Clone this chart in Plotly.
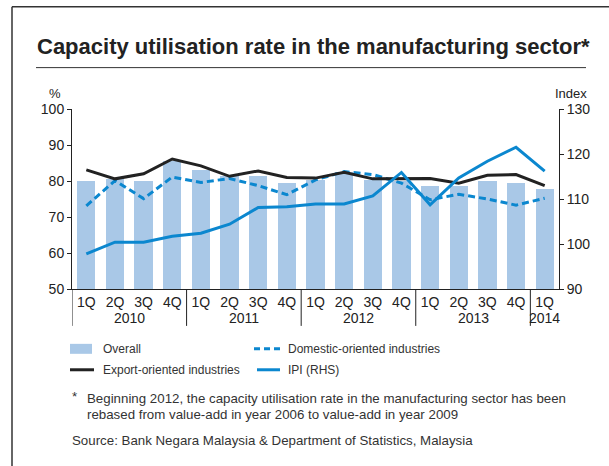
import plotly.graph_objects as go

# Quarterly capacity utilisation (%) and industrial production index
quarters = ["1Q", "2Q", "3Q", "4Q"] * 4 + ["1Q"]
years = ["2010", "2011", "2012", "2013", "2014"]
quarters_per_year = [4, 4, 4, 4, 1]

overall = [80.0, 80.5, 80.0, 85.5, 83.0, 81.3, 81.4, 79.5,
           80.4, 82.5, 80.4, 80.0, 78.7, 78.7, 80.1, 79.5, 77.9]
export_oriented = [83.1, 80.6, 82.0, 86.1, 84.2, 81.3, 82.8, 81.0,
                   80.8, 82.4, 80.6, 80.6, 80.7, 79.4, 81.6, 81.8, 78.7]
domestic_oriented = [73.1, 80.1, 75.1, 81.1, 79.6, 80.7, 78.7, 76.2,
                     80.3, 82.6, 81.8, 79.4, 74.8, 76.3, 75.0, 73.3, 75.2]
ipi = [97.8, 100.4, 100.4, 101.7, 102.4, 104.4, 108.1, 108.3,
       108.9, 108.9, 110.7, 115.9, 108.7, 114.7, 118.4, 121.5, 116.2]

W, H = 609, 466
PL, PR, PT, PB = 72, 559, 108.5, 289  # plot area in pixels

BAR = "#a9c8e7"
BLUE = "#0b87cf"
BLACK = "#222222"
TEXT = "#222222"
FONT = "Liberation Sans, Arial, sans-serif"


def px(x):
    return (x - PL) / (PR - PL)


def py(y):
    return (PB - y) / (PB - PT)


xs = list(range(len(quarters)))

fig = go.Figure()
fig.add_trace(go.Bar(x=xs, y=overall, marker=dict(color=BAR, line=dict(width=0)),
                     width=0.64, name="Overall"))
fig.add_trace(go.Scatter(x=xs, y=domestic_oriented, mode="lines",
                         line=dict(color=BLUE, width=3, dash="7px,4px"),
                         name="Domestic-oriented industries"))
fig.add_trace(go.Scatter(x=xs, y=export_oriented, mode="lines",
                         line=dict(color=BLACK, width=3),
                         name="Export-oriented industries"))
fig.add_trace(go.Scatter(x=xs, y=ipi, mode="lines", yaxis="y2",
                         line=dict(color=BLUE, width=3), name="IPI (RHS)"))

shapes = []
annotations = []

# frame and title rule
shapes.append(dict(type="line", xref="paper", yref="paper", x0=px(12), x1=px(W + 5),
                   y0=py(6), y1=py(6), line=dict(color="#333333", width=1.5)))
shapes.append(dict(type="line", xref="paper", yref="paper", x0=px(12), x1=px(12),
                   y0=py(6), y1=py(H + 5), line=dict(color="#333333", width=1.5)))
shapes.append(dict(type="line", xref="paper", yref="paper", x0=px(36), x1=px(586),
                   y0=py(67), y1=py(67), line=dict(color="#333333", width=1)))

annotations.append(dict(text="Capacity utilisation rate in the manufacturing sector*",
                        xref="paper", yref="paper", x=px(35), y=py(46),
                        xanchor="left", yanchor="middle", showarrow=False,
                        font=dict(family=FONT, size=22, color=TEXT, weight="bold")))
annotations.append(dict(text="%", xref="paper", yref="paper", x=px(55), y=py(93),
                        xanchor="center", yanchor="middle", showarrow=False,
                        font=dict(family=FONT, size=13, color=TEXT)))
annotations.append(dict(text="Index", xref="paper", yref="paper", x=px(571), y=py(93),
                        xanchor="center", yanchor="middle", showarrow=False,
                        font=dict(family=FONT, size=13, color=TEXT)))

# year groups below the quarter labels
start = 0
for yr, n in zip(years, quarters_per_year):
    shapes.append(dict(type="line", xref="x", yref="paper", x0=start - 0.5, x1=start - 0.5,
                       y0=0, y1=py(326), line=dict(color=BLACK, width=1)))
    annotations.append(dict(text=yr, xref="x", yref="paper", x=start + (n - 1) / 2,
                            y=py(318), xanchor="center", yanchor="middle", showarrow=False,
                            font=dict(family=FONT, size=14, color=TEXT)))
    start += n

# legend
LEG = dict(family=FONT, size=12, color="#333333")
shapes.append(dict(type="rect", xref="paper", yref="paper", x0=px(70), x1=px(92),
                   y0=py(344), y1=py(354), fillcolor=BAR, line=dict(width=0)))
shapes.append(dict(type="line", xref="paper", yref="paper", x0=px(254), x1=px(280),
                   y0=py(349), y1=py(349), line=dict(color=BLUE, width=3, dash="6px,4px")))
shapes.append(dict(type="line", xref="paper", yref="paper", x0=px(70), x1=px(94),
                   y0=py(370), y1=py(370), line=dict(color=BLACK, width=3)))
shapes.append(dict(type="line", xref="paper", yref="paper", x0=px(257), x1=px(280),
                   y0=py(370), y1=py(370), line=dict(color=BLUE, width=3)))
for txt, x, y in [("Overall", 101, 349), ("Domestic-oriented industries", 286, 349),
                  ("Export-oriented industries", 101, 370), ("IPI (RHS)", 286, 370)]:
    annotations.append(dict(text=txt, xref="paper", yref="paper", x=px(x), y=py(y),
                            xanchor="left", yanchor="middle", showarrow=False, font=LEG))

# notes
NOTE = dict(family=FONT, size=13.3, color="#333333")
for txt, x, y in [("*", 70, 397),
                  ("Beginning 2012, the capacity utilisation rate in the manufacturing sector has been", 85, 399),
                  ("rebased from value-add in year 2006 to value-add in year 2009", 85, 415),
                  ("Source: Bank Negara Malaysia & Department of Statistics, Malaysia", 70, 441)]:
    annotations.append(dict(text=txt, xref="paper", yref="paper", x=px(x), y=py(y),
                            xanchor="left", yanchor="middle", showarrow=False, font=NOTE))

fig.update_layout(
    width=W, height=H,
    margin=dict(l=PL, r=W - PR, t=PT, b=H - PB, pad=0),
    paper_bgcolor="white", plot_bgcolor="white",
    showlegend=False, bargap=0,
    font=dict(family=FONT, size=14, color=TEXT),
    xaxis=dict(range=[-0.5, len(quarters) - 0.5], tickvals=xs, ticktext=quarters,
               showgrid=False, zeroline=False, showline=True, linecolor=BLACK, linewidth=1,
               ticks="", tickfont=dict(size=14, color=TEXT)),
    yaxis=dict(range=[50, 100], dtick=10, showgrid=False, zeroline=False,
               showline=True, linecolor=BLACK, linewidth=1, ticks="outside",
               ticklen=4, tickcolor=BLACK, tickfont=dict(size=14, color=TEXT)),
    yaxis2=dict(range=[90, 130], dtick=10, overlaying="y", side="right",
                showgrid=False, zeroline=False, showline=True, linecolor=BLACK,
                linewidth=1, ticks="outside", ticklen=4, tickcolor=BLACK,
                tickfont=dict(size=14, color=TEXT)),
    shapes=shapes, annotations=annotations,
)

fig.write_html("out.html")
